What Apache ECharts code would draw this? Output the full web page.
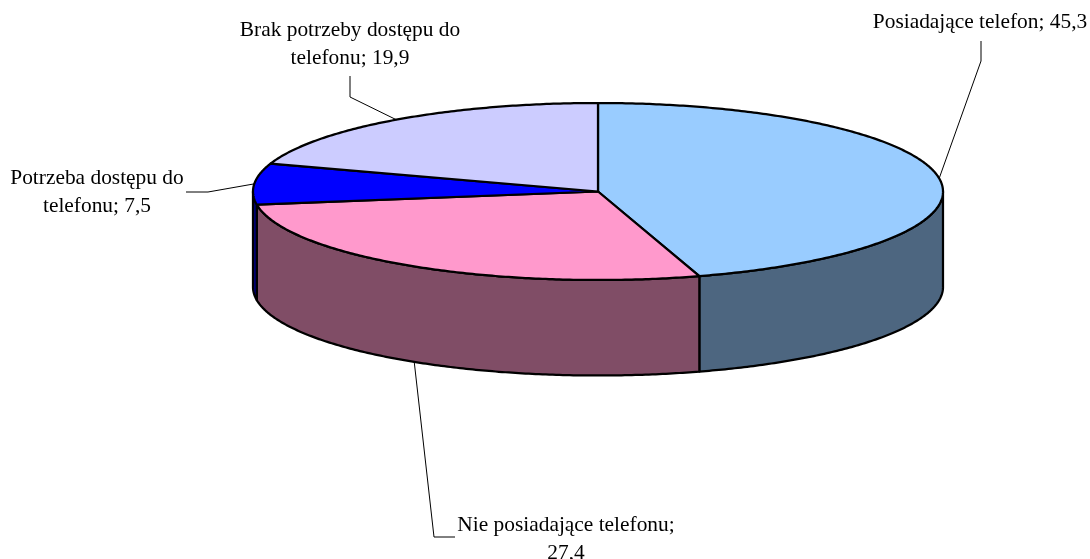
<!DOCTYPE html>
<html>
<head>
<meta charset="utf-8">
<style>html,body{margin:0;padding:0;background:#fff}#c{width:1090px;height:559px}</style>
<script src="https://cdn.jsdelivr.net/npm/echarts@6/dist/echarts.min.js"></script>
</head>
<body>
<div id="c"></div>
<script>
var categories = ['Posiadające telefon', 'Nie posiadające telefonu', 'Potrzeba dostępu do telefonu', 'Brak potrzeby dostępu do telefonu'];
var values = [45.3, 27.4, 7.5, 19.9];
var topColors = ['#99CCFF', '#FF99CC', '#0000FF', '#CCCCFF'];
var wallColors = ['#4D6680', '#804D66', '#000080', '#666680'];
var labelLines = [
  ['Posiadające telefon; 45,3'],
  ['Nie posiadające telefonu;', '27,4'],
  ['Potrzeba dostępu do', 'telefonu; 7,5'],
  ['Brak potrzeby dostępu do', 'telefonu; 19,9']
];
var labelCenterX = [980, 566, 97, 350];
var labelFirstY = [22, 525, 178, 30];
var leaderElbows = [
  [[981, 41], [981, 61]],
  [[455, 537], [434, 537]],
  [[186, 192], [208, 192]],
  [[350, 76], [350, 97]]
];

var CX = 598, CY = 191.5, RX = 345, RY = 88.5, DEPTH = 95.5;
var total = values.reduce(function (a, b) { return a + b; }, 0);
var FONT = '"Liberation Serif", "Times New Roman", serif';

function pt(t, dy) {
  return [CX + RX * Math.sin(t), CY - RY * Math.cos(t) + (dy || 0)];
}
function arc(a, b, dy) {
  var n = Math.max(2, Math.ceil(Math.abs(b - a) / 0.01)), out = [];
  for (var i = 0; i <= n; i++) out.push(pt(a + (b - a) * i / n, dy));
  return out;
}

function renderSlice(params, api) {
  var i = params.dataIndex, before = 0;
  for (var k = 0; k < i; k++) before += values[k];
  var start = before / total * Math.PI * 2;
  var end = (before + api.value(0)) / total * Math.PI * 2;
  var mid = (start + end) / 2;
  var children = [];
  var stroke = { stroke: '#000', lineWidth: 2.25, lineJoin: 'round' };

  var wa = Math.max(start, Math.PI / 2), wb = Math.min(end, Math.PI * 1.5);
  if (wb > wa) {
    children.push({
      type: 'polygon',
      shape: { points: arc(wa, wb, 0).concat(arc(wb, wa, DEPTH)) },
      style: Object.assign({ fill: wallColors[i] }, stroke)
    });
  }
  children.push({
    type: 'polygon',
    shape: { points: [[CX, CY]].concat(arc(start, end, 0)) },
    style: Object.assign({ fill: topColors[i] }, stroke)
  });

  var onFront = mid > Math.PI / 2 && mid < Math.PI * 1.5;
  var anchor = pt(mid, onFront ? DEPTH : 0);
  children.push({
    type: 'polyline',
    shape: { points: leaderElbows[i].concat([anchor]) },
    style: { stroke: '#000', lineWidth: 1, fill: null }
  });
  labelLines[i].forEach(function (line, j) {
    children.push({
      type: 'text',
      style: {
        text: line, x: labelCenterX[i], y: labelFirstY[i] + j * 28,
        fill: '#000', font: '21.4px ' + FONT, align: 'center', verticalAlign: 'middle'
      }
    });
  });
  return { type: 'group', children: children };
}

var chart = echarts.init(document.getElementById('c'), null, { renderer: 'canvas' });
chart.setOption({
  animation: false,
  backgroundColor: '#fff',
  tooltip: { show: false },
  series: [{
    type: 'custom',
    coordinateSystem: 'none',
    renderItem: renderSlice,
    silent: true,
    clip: false,
    data: categories.map(function (name, i) { return { name: name, value: [values[i]] }; })
  }]
});
</script>
</body>
</html>
